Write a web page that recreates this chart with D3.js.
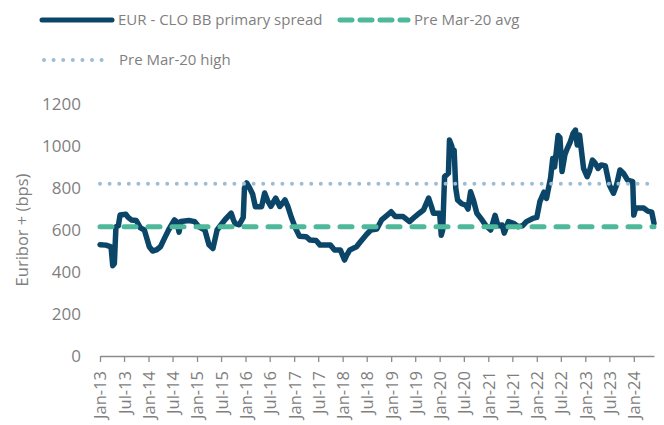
<!DOCTYPE html>
<html>
<head>
<meta charset="utf-8">
<script src="https://cdn.jsdelivr.net/npm/d3@7"></script>
<style>
  body { margin: 0; background: #fff; }
  svg, svg text { font-family: "Open Sans", sans-serif; }
</style>
</head>
<body>
<svg id="chartSVG"></svg>
<script>
// spread series
let dates = [
  "2013-01-01","2013-02-15","2013-03-25","2013-04-07","2013-04-19","2013-05-01","2013-05-19","2013-06-01",
  "2013-07-15","2013-08-01","2013-08-25","2013-10-01","2013-11-01","2013-12-01","2014-01-07","2014-02-01",
  "2014-03-01","2014-04-01","2014-05-01","2014-06-01","2014-07-15","2014-08-01","2014-08-19","2014-09-01",
  "2014-11-01","2014-12-15","2015-01-15","2015-03-01","2015-04-01","2015-05-01","2015-06-01","2015-07-01",
  "2015-08-01","2015-09-15","2015-10-01","2015-10-15","2015-11-15","2015-12-15","2015-12-24","2016-01-10",
  "2016-02-01","2016-02-24","2016-03-15","2016-05-01","2016-05-24","2016-06-15","2016-07-10","2016-08-15",
  "2016-09-15","2016-10-24","2016-11-15","2016-12-10","2017-01-10","2017-02-10","2017-04-01","2017-05-01",
  "2017-06-15","2017-07-15","2017-10-01","2017-11-01","2017-12-15","2018-01-15","2018-02-01","2018-02-24",
  "2018-04-15","2018-05-15","2018-07-01","2018-08-01","2018-09-15","2018-10-21","2018-12-01","2019-01-01",
  "2019-02-01","2019-04-01","2019-05-19","2019-07-01","2019-08-01","2019-09-01","2019-10-10","2019-11-01",
  "2019-11-15","2020-01-01","2020-01-13","2020-01-24","2020-02-07","2020-03-07","2020-03-15","2020-04-01",
  "2020-04-10","2020-04-19","2020-05-01","2020-05-15","2020-06-15","2020-07-15","2020-08-01","2020-08-21",
  "2020-09-10","2020-10-07","2020-11-15","2020-12-15","2021-01-19","2021-02-21","2021-03-15","2021-04-15",
  "2021-05-01","2021-06-01","2021-07-15","2021-08-15","2021-09-15","2021-10-15","2021-12-01","2022-01-01",
  "2022-01-24","2022-02-24","2022-03-15","2022-04-15","2022-05-01","2022-05-15","2022-06-10","2022-06-24",
  "2022-07-10","2022-08-01","2022-08-19","2022-09-10","2022-10-01","2022-10-19","2022-11-01","2022-11-19",
  "2022-12-19","2023-01-15","2023-02-01","2023-02-24","2023-03-15","2023-04-07","2023-05-01","2023-06-01",
  "2023-07-01","2023-08-01","2023-08-24","2023-09-19","2023-10-15","2023-11-15","2023-12-24","2024-01-01",
  "2024-01-15","2024-03-15","2024-04-15","2024-05-15","2024-06-01"
];
let spread = [
  530,528,520,430,440,615,620,671,
  675,660,648,645,610,600,520,500,
  505,520,560,600,648,640,590,640,
  645,640,615,600,530,512,600,625,
  650,680,650,630,625,660,800,824,
  800,770,711,711,776,740,712,752,
  712,743,711,662,610,570,568,552,
  550,528,528,505,505,457,480,505,
  520,544,580,600,605,648,670,687,
  664,664,640,664,680,695,752,710,
  680,680,575,600,854,870,1028,1000,
  960,980,800,743,725,719,700,782,
  745,680,648,620,600,670,620,624,
  585,640,630,616,620,640,655,660,
  735,780,750,850,941,900,1050,1040,
  878,960,989,1020,1060,1076,1005,1052,
  893,854,880,933,920,893,910,905,
  814,775,814,886,870,838,830,671,
  705,705,690,685,632
];
let preAvg = 615;
let preHigh = 820;
let yTicks = [0, 200, 400, 600, 800, 1000, 1200];
let seriesNames = ["EUR - CLO BB primary spread", "Pre Mar-20 avg", "Pre Mar-20 high"];
let yTitle = "Euribor + (bps)";

let widthSVG = 664;
let heightSVG = 425;
let margins = { top: 104, bottom: 69, left: 100, right: 10 };
let width = widthSVG - margins.left - margins.right;
let height = heightSVG - margins.top - margins.bottom;

let navy = "#0b4668";
let green = "#4db89a";
let lightBlue = "#9dbdd5";
let grey = "#7f7f7f";
let font = "'Open Sans', sans-serif";

let parse = d3.timeParse("%Y-%m-%d");
let data = dates.map((d, i) => ({ date: parse(d), value: spread[i] }));

let SVG = d3.select("svg#chartSVG")
  .attr("width", widthSVG)
  .attr("height", heightSVG);

let SVGG = SVG.append("g")
  .attr("transform", `translate(${margins.left}, ${margins.top})`);

let x = d3.scaleTime()
  .domain([parse("2013-01-01"), parse("2024-06-01")])
  .range([0, width]);
let y = d3.scaleLinear().domain([0, 1200]).range([height, 0]);

// y axis, labels only
let yAxis = SVGG.append("g")
  .attr("font-family", font)
  .call(d3.axisLeft(y).tickValues(yTicks).tickSize(0).tickPadding(19).tickFormat(d3.format("d")));
yAxis.attr("font-family", font);
yAxis.select(".domain").remove();
yAxis.selectAll("text")
  .style("font-size", "17px")
  .style("fill", grey);

SVG.append("text")
  .attr("transform", `translate(28, 230) rotate(-90)`)
  .style("text-anchor", "middle")
  .style("font-size", "16.5px")
  .style("fill", grey)
  .text(yTitle);

// x axis
let xTicks = d3.timeMonth.every(6).range(parse("2013-01-01"), parse("2024-02-01"));
let xAxis = SVGG.append("g")
  .attr("transform", `translate(0, ${height})`)
  .call(d3.axisBottom(x).tickValues(xTicks).tickSize(6).tickSizeOuter(0)
    .tickFormat(d3.timeFormat("%b-%y")));
xAxis.attr("font-family", font);
xAxis.select(".domain").attr("stroke", "#8c8c8c").attr("stroke-width", 1.3);
xAxis.selectAll(".tick line").attr("stroke", "#8c8c8c").attr("stroke-width", 1.3);
xAxis.selectAll("text")
  .attr("transform", "rotate(-90)")
  .attr("x", -15)
  .attr("y", 0)
  .attr("dy", "0.36em")
  .style("text-anchor", "end")
  .style("font-size", "16.5px")
  .style("fill", grey);

// series
let line = d3.line().x(d => x(d.date)).y(d => y(d.value));
SVGG.append("path")
  .datum(data)
  .attr("d", line)
  .attr("fill", "none")
  .attr("stroke", navy)
  .attr("stroke-width", 5.5)
  .attr("stroke-linejoin", "round")
  .attr("stroke-linecap", "round");

SVGG.append("line")
  .attr("x1", 0).attr("x2", width)
  .attr("y1", y(preAvg)).attr("y2", y(preAvg))
  .attr("stroke", green)
  .attr("stroke-width", 5)
  .attr("stroke-linecap", "round")
  .attr("stroke-dasharray", "12,12");

SVGG.append("line")
  .attr("x1", 0).attr("x2", width)
  .attr("y1", y(preHigh)).attr("y2", y(preHigh))
  .attr("stroke", lightBlue)
  .attr("stroke-width", 4)
  .attr("stroke-linecap", "round")
  .attr("stroke-dasharray", "0,9.6");

// legend
let legend = SVG.append("g");
let legendItems = [
  { name: seriesNames[0], x: 42, y: 20, len: 70, color: navy, w: 5, dash: null },
  { name: seriesNames[1], x: 340, y: 20, len: 68, color: green, w: 5, dash: "12,8" },
  { name: seriesNames[2], x: 44, y: 60, len: 60, color: lightBlue, w: 4, dash: "0,9.6" }
];
legendItems.forEach(d => {
  legend.append("line")
    .attr("x1", d.x).attr("x2", d.x + d.len)
    .attr("y1", d.y).attr("y2", d.y)
    .attr("stroke", d.color)
    .attr("stroke-width", d.w)
    .attr("stroke-linecap", "round")
    .attr("stroke-dasharray", d.dash);
  legend.append("text")
    .attr("x", d.x + d.len + (d.dash === "0,9.6" ? 15 : 6))
    .attr("y", d.y)
    .attr("dy", "0.35em")
    .style("font-size", "15px")
    .style("fill", grey)
    .text(d.name);
});
</script>
</body>
</html>
